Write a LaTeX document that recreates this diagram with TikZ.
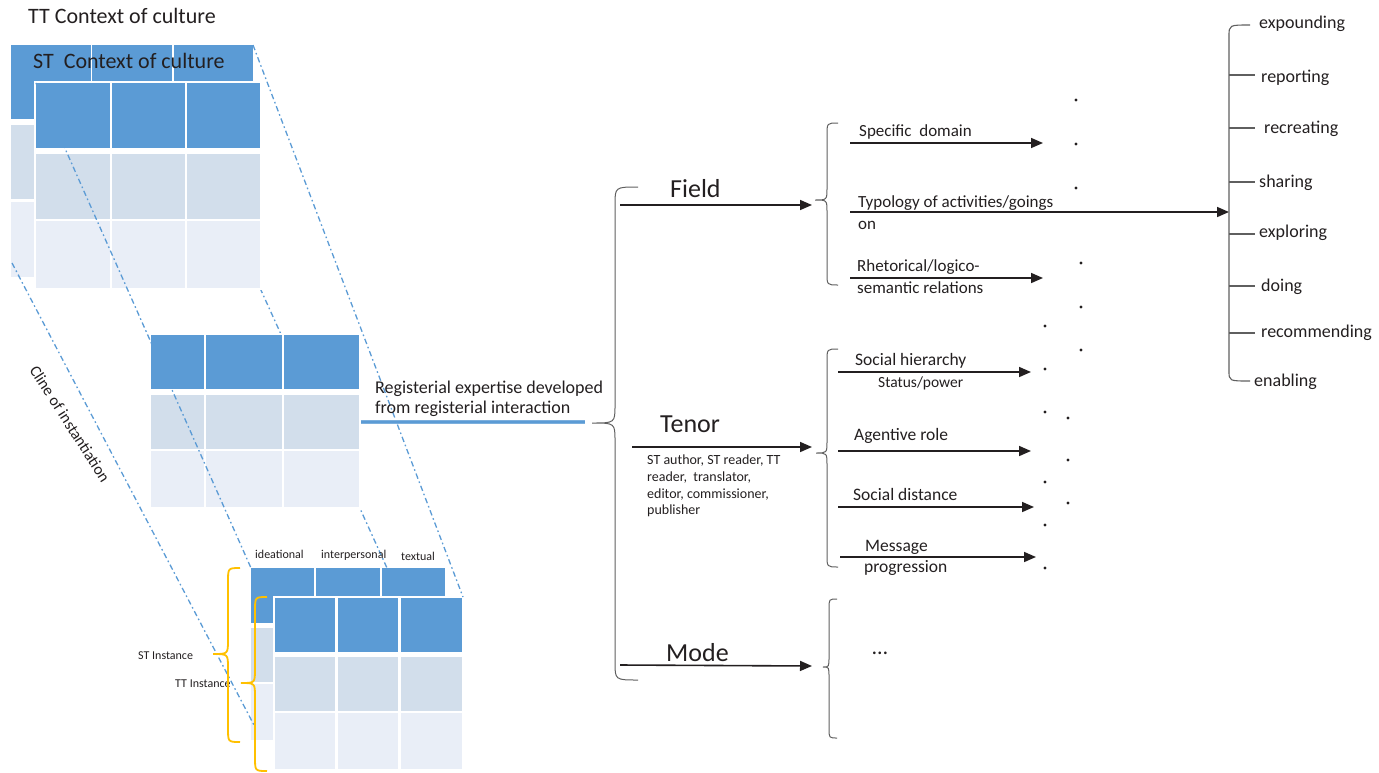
\documentclass[tikz,border=0pt]{standalone}
\usepackage{fontspec}
\setmainfont{Carlito}
\usetikzlibrary{arrows.meta}
\definecolor{hdr}{RGB}{91,155,213}
\definecolor{rowa}{RGB}{210,222,235}
\definecolor{rowb}{RGB}{233,238,247}
\definecolor{ink}{RGB}{35,31,32}
\definecolor{brc}{RGB}{95,95,95}
\definecolor{orng}{RGB}{255,192,0}
\newcommand{\tblrow}[4]{\foreach \xa/\xb in {#4} {\fill[#1] (\xa,#2) rectangle (\xb,#3);}}
\newcommand{\mybrace}[8]{\draw[#1] (#2,#4) .. controls (#3,#4) .. (#3,#4+#8) -- (#3,#6-#8) .. controls (#3,#6) .. (#5,#6) .. controls (#3,#6) .. (#3,#6+#8) -- (#3,#7-#8) .. controls (#3,#7) .. (#2,#7);}
\newcommand{\fs}[1]{\fontsize{#1}{#1}\selectfont}
\begin{document}
\begin{tikzpicture}[x=1pt,y=-1pt,
  txt/.style={inner sep=0pt,anchor=base west,text=ink},
  cline/.style={hdr,line width=1.3pt,dash pattern=on 5.5pt off 3pt on 1.6pt off 3pt},
  arr/.style={ink,line width=1.6pt,-{Triangle[length=12pt,width=10pt]}},
  gbrace/.style={brc,line width=1pt},
  obrace/.style={orng,line width=1.8pt},
  dot/.style={ink}]
\useasboundingbox (0,0) rectangle (1379,772);
% ---- back TT context table
\tblrow{hdr}{45}{119}{11/91,92/172,174/253}
\tblrow{rowa}{125}{199}{11/91,92/172,174/253}
\tblrow{rowb}{202}{277}{11/91,92/172,174/253}
% line 4 (hidden behind middle table)
\coordinate (l4a) at (260,288); \coordinate (l4b) at (387,568);
\draw[cline] (l4a) -- (l4b);
% ---- front ST table light rows
\fill[white] (34,81) rectangle (262,290);
\tblrow{rowa}{154}{219}{36/110,112/185,187/260}
\tblrow{rowb}{221}{288}{36/110,112/185,187/260}
% ---- middle table light rows
\fill[white] (149,333) rectangle (361,509);
\tblrow{rowa}{395}{449}{151/204,206/282,284/359}
\tblrow{rowb}{451}{507}{151/204,206/282,284/359}
% ---- bottom back table (ST instance)
\tblrow{hdr}{568}{623}{251/314,316/380,382/445}
\tblrow{rowa}{628}{682}{251/314,316/380,382/445}
\tblrow{rowb}{684}{740}{251/314,316/380,382/445}
% ---- bottom front table (TT instance)
\fill[white] (273,596) rectangle (464,772);
\tblrow{hdr}{598}{652}{275/335,338/398,401/462}
\tblrow{rowa}{657}{711}{275/335,338/398,401/462}
\tblrow{rowb}{713}{769}{275/335,338/398,401/462}
% ---- dash-dot lines
\coordinate (l1a) at (12,263); \coordinate (l1b) at (255,727);
\coordinate (l2a) at (36,83);  \coordinate (l2b) at (251,568);
\coordinate (l3a) at (253,45); \coordinate (l3b) at (463,597);
\draw[cline] (l1a) -- (l1b);
\draw[cline] (l2a) -- (l2b);
\draw[cline] (l3a) -- (l3b);
% ---- headers on top
\tblrow{hdr}{83}{148}{36/110,112/185,187/260}
\tblrow{hdr}{335}{389}{151/204,206/282,284/359}
% ---- texts left
\node[txt,font=\fs{22}] (ttc) at (28,23) {TT Context of culture};
\node[txt,font=\fs{22}] (stc) at (33,68) {ST\ \ Context of culture};
\node[txt,font=\fs{12}] (idea) at (255,558) {ideational};
\node[txt,font=\fs{12}] (inter) at (321,558) {interpersonal};
\node[txt,font=\fs{12}] (textl) at (401,560) {textual};
\node[txt,font=\fs{12}] (sti) at (138,659) {ST Instance};
\node[txt,font=\fs{12}] (tti) at (175,687) {TT Instance};
\node[inner sep=0pt,text=ink,font=\fs{16},rotate=-57.3] (cline) at (70,424) {Cline of instantiation};
% orange braces
\mybrace{obrace}{240}{228}{568}{213}{654}{742}{14}
\mybrace{obrace}{267}{255}{597}{241}{683}{771}{14}
% registerial
\node[txt,font=\fs{18}] (reg1) at (375,393) {Registerial expertise developed};
\node[txt,font=\fs{18}] (reg2) at (375,413) {from registerial interaction};
\coordinate (rega) at (361,422); \coordinate (regb) at (585,422);
\draw[hdr!80,line width=4pt] (rega) -- (regb);
\draw[hdr,line width=2.6pt] (rega) -- (regb);
% big brace
\mybrace{gbrace}{638}{615}{187}{592}{423}{680}{18}
% Field / Tenor / Mode
\node[txt,font=\fs{26}] (field) at (670,197) {Field};
\node[txt,font=\fs{26}] (tenor) at (660,432) {Tenor};
\node[txt,font=\fs{26}] (mode) at (666,661) {Mode};
\coordinate (fa) at (620,205); \coordinate (fb) at (812,205);
\coordinate (ta) at (632,447); \coordinate (tb) at (812,447);
\coordinate (ma) at (620,665); \coordinate (mb) at (812,666);
\draw[arr] (fa) -- (fb);
\draw[arr] (ta) -- (tb);
\draw[arr] (ma) -- (mb);
\node[txt,font=\fs{14}] (ag1) at (647,464) {ST author, ST reader, TT};
\node[txt,font=\fs{14}] (ag2) at (647,481) {reader,\ \ translator,};
\node[txt,font=\fs{14}] (ag3) at (647,498) {editor, commissioner,};
\node[txt,font=\fs{14}] (ag4) at (647,514) {publisher};
% sub braces
\mybrace{gbrace}{838}{827}{123}{815}{200}{285}{12}
\mybrace{gbrace}{838}{827}{349}{816}{453}{567}{12}
\mybrace{gbrace}{837}{829}{599}{823}{667}{738}{10}
% Field items
\node[txt,font=\fs{17}] (sd) at (859,136) {Specific\ \ domain};
\node[txt,font=\fs{17}] (ty1) at (858,207) {Typology of activities/goings};
\node[txt,font=\fs{17}] (ty2) at (858,229) {on};
\node[txt,font=\fs{17}] (rh1) at (857,271) {Rhetorical/logico-};
\node[txt,font=\fs{17}] (rh2) at (857,293) {semantic relations};
\coordinate (sda) at (850,143); \coordinate (sdb) at (1043,143);
\coordinate (tya) at (850,212); \coordinate (tyb) at (1229,212);
\coordinate (rha) at (850,278); \coordinate (rhb) at (1043,278);
\draw[arr] (sda) -- (sdb);
\draw[arr] (tya) -- (tyb);
\draw[arr] (rha) -- (rhb);
% Tenor items
\node[txt,font=\fs{17.5}] (sh) at (855,365) {Social hierarchy};
\node[txt,font=\fs{15.5}] (sp) at (878,387) {Status/power};
\node[txt,font=\fs{17.5}] (ar) at (854,440) {Agentive role};
\node[txt,font=\fs{17.5}] (sdi) at (853,500) {Social distance};
\node[txt,font=\fs{17.5}] (mp1) at (865,551) {Message};
\node[txt,font=\fs{17.5}] (mp2) at (864,572) {progression};
\coordinate (sha) at (838,372); \coordinate (shb) at (1031,372);
\coordinate (ara) at (838,451); \coordinate (arb) at (1031,451);
\coordinate (sdia) at (838,507); \coordinate (sdib) at (1034,507);
\coordinate (mpa) at (840,557); \coordinate (mpb) at (1036,557);
\draw[arr] (sha) -- (shb);
\draw[arr] (ara) -- (arb);
\draw[arr] (sdia) -- (sdib);
\draw[arr] (mpa) -- (mpb);
% Mode dots
\node[inner sep=0pt,text=ink,font=\fs{22}] (mdots) at (880,653) {\dots};
% dots
\foreach \p in {(1076,100),(1076,144),(1076,188),(1081,263),(1081,307),(1045,326),(1081,350),(1045,369),(1045,412),(1068,418),(1068,460),(1045,482),(1068,503),(1045,525),(1045,568)}
  \fill[dot] \p circle (1.6);
% right list bracket
\draw[brc,line width=1.1pt] (1250,25) .. controls (1229,25) .. (1229,36) -- (1229,371) .. controls (1229,381) .. (1250,381);
\foreach \yy in {75,128,182,234,286,333} \draw[brc,line width=1.1pt] (1229,\yy) -- (1255,\yy);
\node[txt,font=\fs{18}] (e1) at (1259,28) {expounding};
\node[txt,font=\fs{18}] (e2) at (1261,82) {reporting};
\node[txt,font=\fs{18}] (e3) at (1264,133) {recreating};
\node[txt,font=\fs{18}] (e4) at (1259,187) {sharing};
\node[txt,font=\fs{18}] (e5) at (1259,237) {exploring};
\node[txt,font=\fs{18}] (e6) at (1261,291) {doing};
\node[txt,font=\fs{18}] (e7) at (1261,337) {recommending};
\node[txt,font=\fs{18}] (e8) at (1254,386) {enabling};
\end{tikzpicture}
\end{document}
